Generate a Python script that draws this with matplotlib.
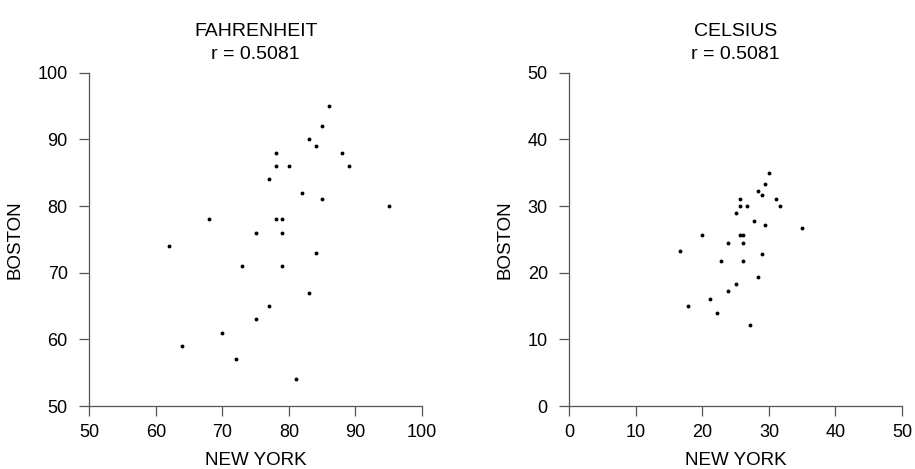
import numpy as np
import matplotlib
matplotlib.use("Agg")
import matplotlib.pyplot as plt

# daily highs, Fahrenheit
ny_f = [86, 85, 83, 84, 78, 88, 78, 80, 89, 77, 82, 85, 95, 68, 78,
        79, 75, 79, 62, 84, 73, 79, 83, 77, 75, 70, 64, 72, 81]
boston_f = [95, 92, 90, 89, 88, 88, 86, 86, 86, 84, 82, 81, 80, 78, 78,
            78, 76, 76, 74, 73, 71, 71, 67, 65, 63, 61, 59, 57, 54]

# same days, Celsius
ny_c = [30.0, 29.4, 28.3, 28.9, 25.6, 31.1, 25.6, 26.7, 31.7, 25.0, 27.8, 29.4, 35.0, 20.0, 25.6,
        26.1, 23.9, 26.1, 16.7, 28.9, 22.8, 26.1, 28.3, 25.0, 23.9, 21.1, 17.8, 22.2, 27.2]
boston_c = [35.0, 33.3, 32.2, 31.7, 31.1, 31.1, 30.0, 30.0, 30.0, 28.9, 27.8, 27.2, 26.7, 25.6, 25.6,
            25.6, 24.4, 24.4, 23.3, 22.8, 21.7, 21.7, 19.4, 18.3, 17.2, 16.1, 15.0, 13.9, 12.2]

titles = ["FAHRENHEIT\nr = 0.5081", "CELSIUS\nr = 0.5081"]
f_ticks = [50, 60, 70, 80, 90, 100]
c_ticks = [0, 10, 20, 30, 40, 50]

plt.rcParams.update({'font.family': ['Liberation Sans', 'DejaVu Sans']})
plt.rcParams.update({'font.size': 13})

fig = plt.figure(figsize=(9.15, 4.69), dpi=100)
ax1 = fig.add_axes([0.0976, 0.1343, 0.3636, 0.7107])
ax2 = fig.add_axes([0.6222, 0.1343, 0.3636, 0.7107])

for ax, x, y, t, ticks in [(ax1, ny_f, boston_f, titles[0], f_ticks),
                           (ax2, ny_c, boston_c, titles[1], c_ticks)]:
    ax.plot(x, y, 'o', color='k', markersize=2.8, markeredgewidth=0, clip_on=False)
    ax.set_xlim(ticks[0], ticks[-1])
    ax.set_ylim(ticks[0], ticks[-1])
    ax.set_xticks(ticks)
    ax.set_yticks(ticks)
    for s in ['top', 'right']:
        ax.spines[s].set_visible(False)
    for s in ['left', 'bottom']:
        ax.spines[s].set_color('#555555')
        ax.spines[s].set_linewidth(0.9)
    ax.tick_params(direction='out', length=7, width=0.9, color='#555555', labelsize=13)
    ax.tick_params(axis='x', pad=6)
    ax.tick_params(axis='y', pad=8.5)
    ax.set_xlabel("NEW YORK", labelpad=8, fontsize=13.5)
    ax.set_ylabel("BOSTON", labelpad=10, fontsize=13.5)
    ax.set_title(t, pad=10, linespacing=1.45, fontsize=14)

fig.savefig("out.png", dpi=100)
plt.close(fig)
